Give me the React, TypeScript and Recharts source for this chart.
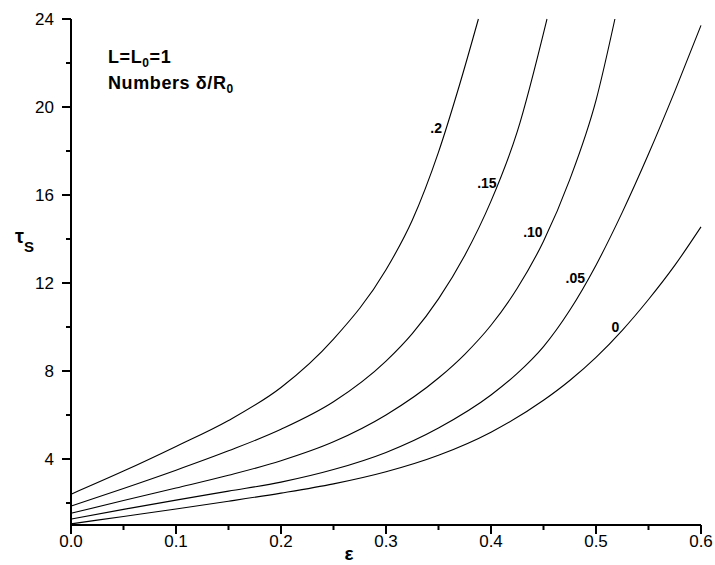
import React from 'react';
import { LineChart, Line, XAxis, YAxis, ReferenceDot } from 'recharts';

// strain values (epsilon) and tau_s, one pair of arrays per delta/R0
const eps0 = [0, 0.05, 0.1, 0.15, 0.2, 0.25, 0.3, 0.35, 0.4, 0.45, 0.475, 0.5, 0.525, 0.55, 0.575, 0.6];
const tau0 = [1.05, 1.39, 1.73, 2.08, 2.45, 2.87, 3.42, 4.17, 5.22, 6.67, 7.57, 8.62, 9.85, 11.25, 12.8, 14.55];

const eps05 = [0, 0.05, 0.1, 0.15, 0.2, 0.25, 0.3, 0.35, 0.4, 0.425, 0.45, 0.475, 0.5, 0.525, 0.55, 0.575, 0.6];
const tau05 = [1.27, 1.71, 2.13, 2.54, 2.95, 3.52, 4.3, 5.41, 6.91, 7.89, 9.11, 10.76, 12.81, 15.21, 17.86, 20.71, 23.71];

const eps10 = [0, 0.05, 0.1, 0.15, 0.2, 0.25, 0.3, 0.35, 0.375, 0.4, 0.425, 0.45, 0.475, 0.5, 0.518];
const tau10 = [1.53, 2.11, 2.68, 3.26, 3.92, 4.78, 6.0, 7.68, 8.76, 10.08, 11.76, 13.9, 16.7, 20.3, 24];

const eps15 = [0, 0.05, 0.1, 0.15, 0.2, 0.25, 0.3, 0.325, 0.35, 0.375, 0.4, 0.425, 0.4533];
const tau15 = [1.86, 2.66, 3.49, 4.37, 5.35, 6.6, 8.45, 9.7, 11.28, 13.25, 15.72, 18.88, 24];

const eps20 = [0, 0.05, 0.1, 0.15, 0.2, 0.25, 0.3, 0.325, 0.35, 0.37, 0.388];
const tau20 = [2.4, 3.45, 4.57, 5.75, 7.25, 9.45, 12.6, 14.85, 17.95, 21.0, 24];

// curve labels, anchored at their bottom-right corner
const curveLabels = ['.2', '.15', '.10', '.05', '0'];
const labelEps = [0.3533, 0.4054, 0.4492, 0.4895, 0.5222];
const labelTau = [18.82, 16.32, 14.09, 12.0, 9.77];

const xTicks = [0, 0.05, 0.1, 0.15, 0.2, 0.25, 0.3, 0.35, 0.4, 0.45, 0.5, 0.55, 0.6];
const yTicks = [2, 4, 6, 8, 10, 12, 14, 16, 18, 20, 22, 24];

const zip = (xs: number[], ys: number[]) => xs.map((x, i) => ({ x, y: ys[i] }));

const curves = [
  zip(eps0, tau0),
  zip(eps05, tau05),
  zip(eps10, tau10),
  zip(eps15, tau15),
  zip(eps20, tau20),
];

const FONT = '"Liberation Sans", Arial, sans-serif';

const YTick = (props: any) => {
  const { x, y, payload } = props;
  const major = payload.value % 4 === 0;
  return (
    <g>
      <line x1={x - (major ? 9 : 5)} x2={x} y1={y} y2={y} stroke="#000" strokeWidth={2} />
      {major && (
        <text x={x - 17} y={y} dy={6} textAnchor="end" fontFamily={FONT} fontSize={17} fill="#000">
          {payload.value}
        </text>
      )}
    </g>
  );
};

const XTick = (props: any) => {
  const { x, y, payload } = props;
  const major = Math.round(payload.value * 100) % 10 === 0;
  return (
    <g>
      <line x1={x} x2={x} y1={y} y2={y + (major ? 9 : 5)} stroke="#000" strokeWidth={2} />
      {major && (
        <text x={x} y={y + 22} textAnchor="middle" fontFamily={FONT} fontSize={17} fill="#000">
          {payload.value.toFixed(1)}
        </text>
      )}
    </g>
  );
};

export default function App() {
  return (
    <div style={{ position: 'absolute', top: 0, left: 0, width: 715, height: 565, background: '#fff' }}>
      <LineChart width={715} height={565} margin={{ top: 19, right: 14, bottom: 0, left: 0 }}>
        <XAxis
          dataKey="x"
          type="number"
          domain={[0, 0.6]}
          ticks={xTicks}
          interval={0}
          height={40}
          tickSize={0}
          tickMargin={0}
          tick={<XTick />}
          axisLine={{ stroke: '#000', strokeWidth: 2 }}
        />
        <YAxis
          type="number"
          domain={[1, 24]}
          ticks={yTicks}
          interval={0}
          width={71}
          tickSize={0}
          tickMargin={0}
          tick={<YTick />}
          axisLine={{ stroke: '#000', strokeWidth: 2 }}
        />
        {curves.map((data, i) => (
          <Line
            key={i}
            data={data}
            dataKey="y"
            type="monotone"
            stroke="#000"
            strokeWidth={1.1}
            dot={false}
            activeDot={false}
            isAnimationActive={false}
          />
        ))}
        {curveLabels.map((lab, i) => (
          <ReferenceDot
            key={lab}
            x={labelEps[i]}
            y={labelTau[i]}
            r={0}
            shape={(p: any) => (
              <text
                x={p.cx}
                y={p.cy}
                textAnchor="end"
                fontFamily={FONT}
                fontWeight="bold"
                fontSize={14}
                fill="#000"
              >
                {lab}
              </text>
            )}
          />
        ))}
      </LineChart>
      <svg
        width={715}
        height={565}
        style={{ position: 'absolute', top: 0, left: 0, pointerEvents: 'none' }}
      >
        <g fontFamily={FONT} fontWeight="bold" fill="#000">
          <text x={108} y={63} fontSize={18} letterSpacing={0.6}>
            L=L<tspan fontSize={12} dy={4}>0</tspan>
            <tspan dy={-4}>=1</tspan>
          </text>
          <text x={108} y={89} fontSize={18} letterSpacing={0.6}>
            Numbers δ/R<tspan fontSize={12} dy={4}>0</tspan>
          </text>
          <text x={15} y={243} fontSize={20}>
            τ<tspan fontSize={15} dy={9}>S</tspan>
          </text>
          <text x={349} y={560} fontSize={19} textAnchor="middle">
            ε
          </text>
        </g>
      </svg>
    </div>
  );
}
